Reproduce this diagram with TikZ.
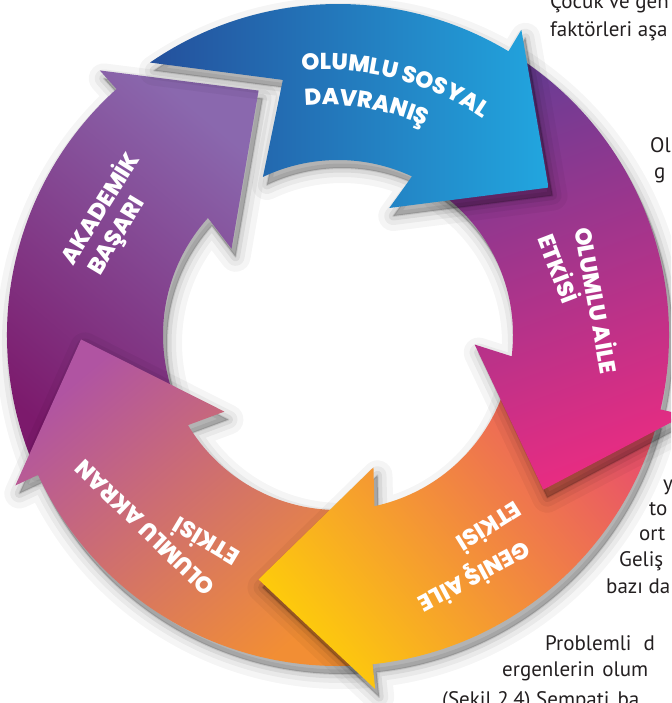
\documentclass[tikz,border=0pt]{standalone}
\usepackage{fontspec}
\usetikzlibrary{decorations.text}

\newfontfamily\poppins{Poppins}[BoldFont={Poppins ExtraBold}]
\newfontfamily\ptsans{PT Sans}
\newcommand{\lblfont}{\poppins\bfseries\fontsize{23}{26}\selectfont}
% ring piece: tip angle, outer tail angle, inner tail angle, notch angle, notch radius
\newcommand{\ringarrow}[5]{(#2:331) arc[start angle=#2, end angle=#1+24, radius=331]
  -- (#1+24:356) -- (#1:257) -- (#1+33:137) -- (#1+30:175)
  arc[start angle=#1+30, end angle=#3, radius=175] -- (#4:#5) -- cycle}

\definecolor{blueA}{RGB}{36,80,156}
\definecolor{blueB}{RGB}{34,166,223}
\definecolor{akdA}{RGB}{138,104,174}
\definecolor{akdB}{RGB}{124,26,108}
\definecolor{akrA}{RGB}{176,84,162}
\definecolor{akrB}{RGB}{236,72,150}
\definecolor{akrC}{RGB}{242,142,52}
\definecolor{genA}{RGB}{253,202,12}
\definecolor{genB}{RGB}{244,152,46}
\definecolor{genC}{RGB}{233,84,104}
\definecolor{ailA}{RGB}{108,60,148}
\definecolor{ailB}{RGB}{231,44,130}
\definecolor{bodytext}{RGB}{35,31,32}

\begin{document}
\begin{tikzpicture}[%
		x=1pt, y=1pt,
		ringpart/.style={%
			preaction={fill=black, draw=black, opacity=.04, line width=30pt, line join=round,
				transform canvas={shift={(4pt,-8pt)}}},
			preaction={fill=black, draw=black, opacity=.05, line width=18pt, line join=round,
				transform canvas={shift={(4pt,-8pt)}}},
			preaction={fill=black, draw=black, opacity=.07, line width=9pt, line join=round,
				transform canvas={shift={(4pt,-8pt)}}},
			preaction={fill=black, draw=black, opacity=.09, line width=2pt, line join=round,
				transform canvas={shift={(4pt,-8pt)}}}
		},
		lbl/.style={text=white, font=\lblfont, inner sep=0pt},
		bodytxt/.style={text=bodytext, font=\ptsans\fontsize{21}{24}\selectfont,
			anchor=base west, inner sep=0pt}
		]
		\useasboundingbox (-338,-368) rectangle (333,335);
		\clip (-338,-368) rectangle (333,335);

		% paragraph lines cut by the page edge
		\node[bodytxt] (p1) at (212,326) {Çocuk ve gen};
		\node[bodytxt] (p2) at (212,298) {faktörleri aşa};
		\node[bodytxt] (p3) at (312,182) {Ol};
		\node[bodytxt] (p4) at (316,156) {g};
		\node[bodytxt] (p5) at (325,-155) {y};
		\node[bodytxt] (p6) at (311,-180) {to};
		\node[bodytxt] (p7) at (301,-205) {ort};
		\node[bodytxt] (p8) at (281,-231) {Geliş};
		\node[bodytxt] (p9) at (268,-258) {bazı da};
		\node[bodytxt] (p10) at (207,-315) {Problemli\hspace{12pt}d};
		\node[bodytxt] (p11) at (164,-341) {ergenlerin\hspace{8pt}olum};
		\node[bodytxt] (p12) at (104,-371) {(Şekil 2.4) Sempati\hspace{8pt}ba};

		% ring, each head lies over the next tail
		\shade[ringpart, top color=akdA, bottom color=akdB, shading angle=-40]
			\ringarrow{108}{203}{203}{203}{253};
		\shade[ringpart, top color=akrA, middle color=akrB, bottom color=akrC, shading angle=40]
			\ringarrow{-179}{-86}{-86}{-86}{253};
		\shade[ringpart, top color=genC, middle color=genB, bottom color=genA, shading angle=-50]
			\ringarrow{-108}{-15}{-15}{-15}{253};
		\shade[ringpart, top color=ailA, bottom color=ailB, shading angle=20]
			\ringarrow{-37}{57}{57}{57}{253};
		\shade[ringpart, left color=blueA, right color=blueB]
			\ringarrow{35}{124.6}{115.4}{102.2}{261};

		% labels
		\path[decorate, decoration={text along path, text color=white,
			text={|\lblfont|OLUMLU SOSYAL}}]
			(-12,-12) ++(95:277) arc[start angle=95, end angle=10, radius=277];
		\path[decorate, decoration={text along path, text color=white,
			text={|\lblfont|DAVRANIŞ}}]
			(-12,-12) ++(95:242) arc[start angle=95, end angle=10, radius=242];
		\node[lbl, rotate=-80] (aile1) at (260,35) {OLUMLU AİLE};
		\node[lbl, rotate=-69] (aile2) at (222,67) {ETKİSİ};
		\node[lbl, rotate=-152] (genis1) at (136,-241) {GENİŞ AİLE};
		\node[lbl, rotate=-148] (genis2) at (152,-193) {ETKİSİ};
		\node[lbl, rotate=136] (akran1) at (-193,-193) {OLUMLU AKRAN};
		\node[lbl, rotate=149] (akran2) at (-133,-208) {ETKİSİ};
		\node[lbl, rotate=58] (akademik1) at (-240,128) {AKADEMİK};
		\node[lbl, rotate=59] (akademik2) at (-220,98) {BAŞARI};
\end{tikzpicture}
\end{document}
